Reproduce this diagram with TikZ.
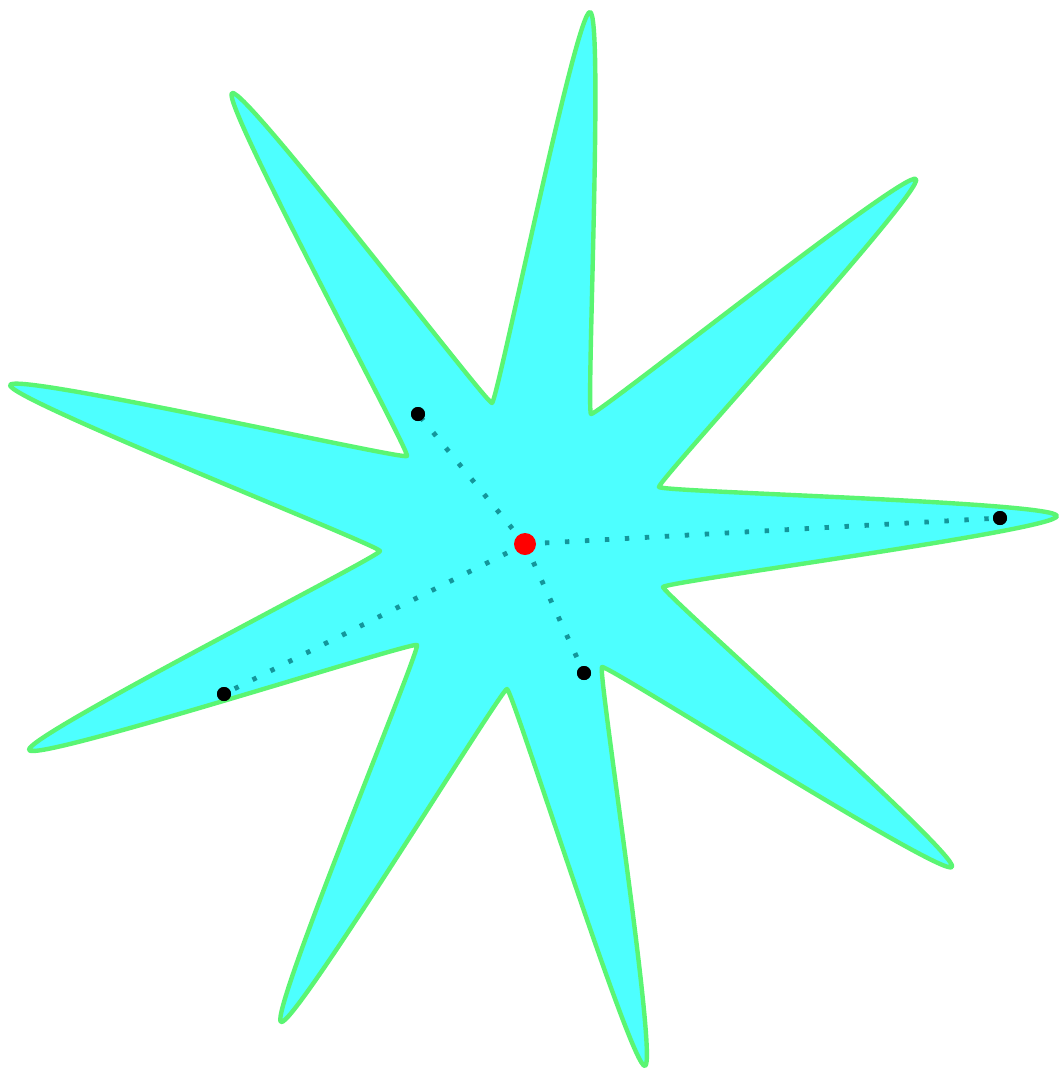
\documentclass[tikz,border=0pt]{standalone}
\usetikzlibrary{calc}
\begin{document}
\begin{tikzpicture}[x=0.5pt,y=-0.5pt,
  starfill/.style={fill={rgb,255:red,77;green,255;blue,255}},
  starline/.style={draw={rgb,255:red,90;green,245;blue,115},line width=2.2pt,line join=round},
  guide/.style={draw={rgb,255:red,20;green,150;blue,155},line width=2.4pt,dash pattern=on 2.2pt off 7.8pt},
  pt/.style={circle,fill=black,inner sep=0pt,minimum size=7pt},
  ctr/.style={circle,fill=red,inner sep=0pt,minimum size=11pt}]
\useasboundingbox (0,0) rectangle (1062,1073);
% tips
\coordinate (T1) at (590,12);
\coordinate (T2) at (916,179);
\coordinate (T3) at (1057,516);
\coordinate (T4) at (952,867);
\coordinate (T5) at (645,1066);
\coordinate (T6) at (281,1022);
\coordinate (T7) at (29,750);
\coordinate (T8) at (10,385);
\coordinate (T9) at (232,93);
% valleys
\coordinate (V12) at (591,414);
\coordinate (V23) at (659,487);
\coordinate (V34) at (663,587);
\coordinate (V45) at (602,667);
\coordinate (V56) at (507,689);
\coordinate (V67) at (417,645);
\coordinate (V78) at (380,551);
\coordinate (V89) at (407,456);
\coordinate (V91) at (492,403);
\foreach \t/\a/\b in {T1/V91/V12,T2/V12/V23,T3/V23/V34,T4/V34/V45,T5/V45/V56,
                      T6/V56/V67,T7/V67/V78,T8/V78/V89,T9/V89/V91}{
  \coordinate (dd) at ($(\b)-(\a)$);
  \coordinate (\t i) at ($(\t)-0.14*(dd)$);
  \coordinate (\t o) at ($(\t)+0.14*(dd)$);
}
\foreach \v/\p/\n in {V12/T1/T2,V23/T2/T3,V34/T3/T4,V45/T4/T5,V56/T5/T6,
                      V67/T6/T7,V78/T7/T8,V89/T8/T9,V91/T9/T1}{
  \coordinate (dd) at ($(\n)-(\p)$);
  \coordinate (\v i) at ($(\v)-0.015*(dd)$);
  \coordinate (\v o) at ($(\v)+0.015*(dd)$);
}
\draw[starfill,starline] (V91)
  .. controls (V91o) and (T1i) .. (T1) .. controls (T1o) and (V12i) .. (V12)
  .. controls (V12o) and (T2i) .. (T2) .. controls (T2o) and (V23i) .. (V23)
  .. controls (V23o) and (T3i) .. (T3) .. controls (T3o) and (V34i) .. (V34)
  .. controls (V34o) and (T4i) .. (T4) .. controls (T4o) and (V45i) .. (V45)
  .. controls (V45o) and (T5i) .. (T5) .. controls (T5o) and (V56i) .. (V56)
  .. controls (V56o) and (T6i) .. (T6) .. controls (T6o) and (V67i) .. (V67)
  .. controls (V67o) and (T7i) .. (T7) .. controls (T7o) and (V78i) .. (V78)
  .. controls (V78o) and (T8i) .. (T8) .. controls (T8o) and (V89i) .. (V89)
  .. controls (V89o) and (T9i) .. (T9) .. controls (T9o) and (V91i) .. (V91)
  -- cycle;
\coordinate (c) at (525,544);
\node[pt] (a) at (418,414) {};
\node[pt] (b) at (1000,518) {};
\node[pt] (d) at (584,673) {};
\node[pt] (e) at (224,694) {};
\draw[guide] (c) -- (a.center);
\draw[guide] (c) -- (b.center);
\draw[guide] (c) -- (d.center);
\draw[guide] (c) -- (e.center);
\node[pt] at (a) {};
\node[pt] at (b) {};
\node[pt] at (d) {};
\node[pt] at (e) {};
\node[ctr] (cc) at (c) {};
\end{tikzpicture}
\end{document}
